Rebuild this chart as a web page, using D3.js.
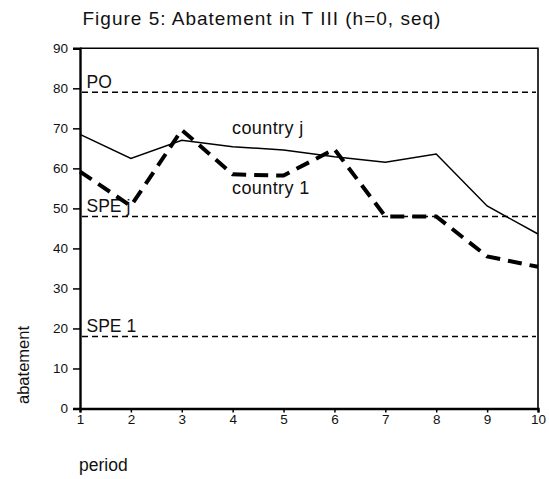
<!DOCTYPE html>
<html>
<head>
<meta charset="utf-8">
<script src="https://cdn.jsdelivr.net/npm/d3@7"></script>
<style>
  html, body { margin: 0; padding: 0; background: #fff; }
  svg { display: block; font-family: "Liberation Sans", Arial, sans-serif; }
</style>
</head>
<body>
<svg id="chart" width="549" height="479"></svg>
<script>
// Abatement per period for the two countries
const periods = [1, 2, 3, 4, 5, 6, 7, 8, 9, 10];
const countryJ = [68.5, 62.5, 67, 65.4, 64.6, 62.9, 61.5, 63.6, 50.6, 43.6];
const country1 = [59.2, 50.6, 69.6, 58.5, 58.2, 64.8, 48, 48, 38, 35.4];

// Benchmark levels drawn as horizontal dashed lines
const refNames = ["PO", "SPE j", "SPE 1"];
const refValues = [79, 48, 18];

const yTicks = [0, 10, 20, 30, 40, 50, 60, 70, 80, 90];

const svg = d3.select("#chart");
const plotLeft = 80, plotRight = 538, plotTop = 48.3, plotBottom = 408.5;

const x = d3.scaleLinear().domain([1, 10]).range([plotLeft, plotRight]);
const y = d3.scaleLinear().domain([0, 90]).range([plotBottom, plotTop]);

const labelFont = 17.5;

// Title
svg.append("text")
  .attr("x", 82.5).attr("y", 24.5)
  .attr("font-size", 19)
  .attr("letter-spacing", 1)
  .attr("fill", "#111")
  .text("Figure 5: Abatement in T III (h=0, seq)");

// Frame: top and right edges
svg.append("path")
  .attr("d", `M${plotLeft},${plotTop}H${plotRight}V${plotBottom}`)
  .attr("fill", "none").attr("stroke", "#000").attr("stroke-width", 1.6);

// Y axis
const yAxis = svg.append("g")
  .attr("transform", `translate(${plotLeft},0)`)
  .call(d3.axisLeft(y).tickValues(yTicks).tickSize(7).tickPadding(5).tickFormat(d3.format("d")));
yAxis.select(".domain").attr("stroke-width", 2.4);
yAxis.selectAll(".tick line").attr("stroke-width", 1.5);
yAxis.selectAll("text").attr("font-size", 13.5).attr("fill", "#111")
  .attr("font-family", "Liberation Sans, Arial, sans-serif");

// X axis
const xAxis = svg.append("g")
  .attr("transform", `translate(0,${plotBottom})`)
  .call(d3.axisBottom(x).tickValues(periods).tickSize(4).tickPadding(1.5).tickFormat(d3.format("d")));
xAxis.select(".domain").attr("stroke-width", 2.4);
xAxis.selectAll(".tick line").attr("stroke-width", 1.5);
xAxis.selectAll("text").attr("font-size", 13.5).attr("fill", "#111")
  .attr("font-family", "Liberation Sans, Arial, sans-serif");

// Reference lines with their labels
refValues.forEach((v, i) => {
  svg.append("line")
    .attr("x1", x(1) + 2).attr("x2", x(10) - 2)
    .attr("y1", y(v)).attr("y2", y(v))
    .attr("stroke", "#000").attr("stroke-width", 1.5)
    .attr("stroke-dasharray", "6,4");
  svg.append("text")
    .attr("x", x(1) + 6.5).attr("y", y(v) - 4.5)
    .attr("font-size", labelFont).attr("fill", "#111")
    .text(refNames[i]);
});

const line = d3.line().x((d, i) => x(periods[i])).y(d => y(d));

// Country j: thin solid line
svg.append("path")
  .datum(countryJ)
  .attr("d", line)
  .attr("fill", "none").attr("stroke", "#000").attr("stroke-width", 1.5);

// Country 1: heavy dashed line
svg.append("path")
  .datum(country1)
  .attr("d", line)
  .attr("fill", "none").attr("stroke", "#000").attr("stroke-width", 4)
  .attr("stroke-dasharray", "14,8");

// Series labels
svg.append("text").attr("x", 232).attr("y", 134)
  .attr("font-size", 18).attr("letter-spacing", 0.4).attr("fill", "#111").text("country j");
svg.append("text").attr("x", 232).attr("y", 194)
  .attr("font-size", 18).attr("letter-spacing", 0.4).attr("fill", "#111").text("country 1");

// Axis titles
svg.append("text")
  .attr("transform", "translate(29,365) rotate(-90)")
  .attr("text-anchor", "middle")
  .attr("font-size", 16.5).attr("fill", "#111")
  .text("abatement");
svg.append("text").attr("x", 79).attr("y", 471)
  .attr("font-size", 17.5).attr("fill", "#111").text("period");
</script>
</body>
</html>
